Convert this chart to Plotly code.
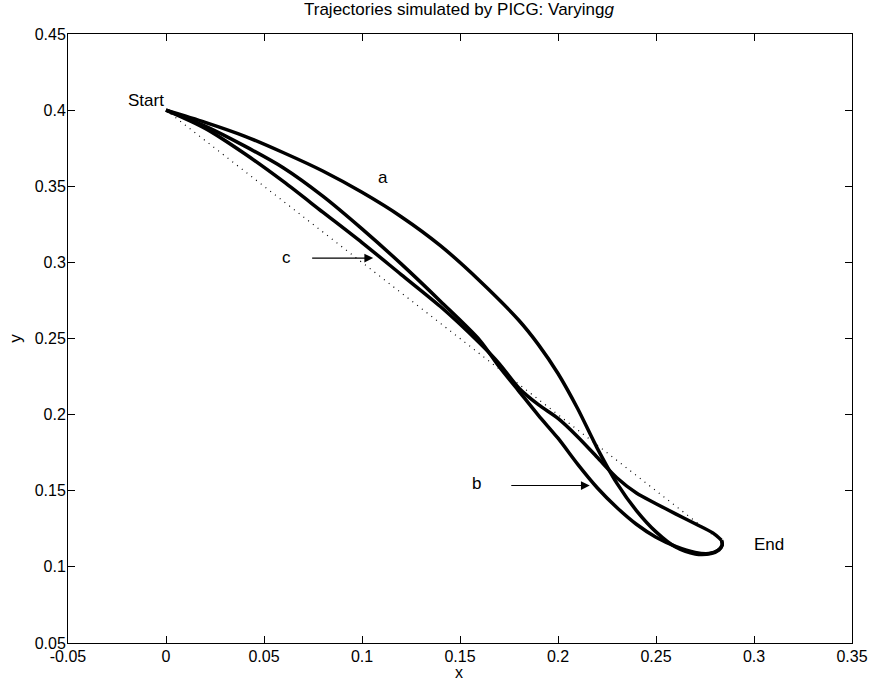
import plotly.graph_objects as go

# ---- data ----
a_x = [0, 0.02, 0.04, 0.06, 0.08, 0.10, 0.12, 0.14, 0.16, 0.18, 0.19, 0.20,
       0.21, 0.22, 0.23, 0.24, 0.25, 0.26, 0.27, 0.278, 0.2822, 0.2838, 0.2834]
a_y = [0.4, 0.392, 0.383, 0.372, 0.360, 0.346, 0.330, 0.311, 0.288, 0.262, 0.246, 0.227,
       0.204, 0.178, 0.155, 0.137, 0.123, 0.113, 0.1085, 0.1088, 0.1112, 0.1145, 0.1175]

b_x = [0, 0.02, 0.04, 0.06, 0.08, 0.10, 0.12, 0.14, 0.16, 0.17, 0.18, 0.19, 0.20,
       0.21, 0.22, 0.23, 0.24, 0.25, 0.26, 0.27, 0.277, 0.2815, 0.2838, 0.2834]
b_y = [0.4, 0.3895, 0.3765, 0.362, 0.3435, 0.322, 0.299, 0.2745, 0.249, 0.2315, 0.2155,
       0.1995, 0.1845, 0.1675, 0.152, 0.139, 0.128, 0.1195, 0.1135, 0.1095, 0.1088,
       0.1108, 0.1145, 0.1175]

c_x = [0, 0.02, 0.04, 0.06, 0.08, 0.10, 0.12, 0.14, 0.16, 0.17, 0.18, 0.19, 0.20,
       0.21, 0.22, 0.23, 0.24, 0.25, 0.26, 0.27, 0.279, 0.2834]
c_y = [0.4, 0.388, 0.3715, 0.353, 0.333, 0.313, 0.292, 0.271, 0.247, 0.2335, 0.2175,
       0.2065, 0.1975, 0.1855, 0.172, 0.1585, 0.1485, 0.1415, 0.1348, 0.1283, 0.1223, 0.1175]

straight_x = [0, 0.28]
straight_y = [0.4, 0.12]

x_ticks = [-0.05, 0, 0.05, 0.1, 0.15, 0.2, 0.25, 0.3, 0.35]
x_tick_labels = ["-0.05", "0", "0.05", "0.1", "0.15", "0.2", "0.25", "0.3", "0.35"]
y_ticks = [0.05, 0.1, 0.15, 0.2, 0.25, 0.3, 0.35, 0.4, 0.45]
y_tick_labels = ["0.05", "0.1", "0.15", "0.2", "0.25", "0.3", "0.35", "0.4", "0.45"]

title_text = "Trajectories simulated by PICG: Varying<i>g</i>"
x_title = "x"
y_title = "y"

FONT = "Liberation Sans, Arial, Helvetica, sans-serif"

fig = go.Figure()
fig.add_trace(go.Scatter(x=straight_x, y=straight_y, mode="lines",
                         line=dict(color="black", width=1.2, dash="1px,5px"),
                         showlegend=False, hoverinfo="skip"))
for xs, ys in [(a_x, a_y), (b_x, b_y), (c_x, c_y)]:
    fig.add_trace(go.Scatter(x=xs, y=ys, mode="lines",
                             line=dict(color="black", width=3.5, shape="spline", smoothing=0.8),
                             showlegend=False, hoverinfo="skip"))

lab = dict(size=17, color="black", family=FONT)
annots = [
    dict(x=-0.0104, y=0.406, text="Start", showarrow=False, xref="x", yref="y", font=lab),
    dict(x=0.3075, y=0.1145, text="End", showarrow=False, xref="x", yref="y", font=lab),
    dict(x=0.1105, y=0.3555, text="a", showarrow=False, xref="x", yref="y", font=lab),
    dict(x=0.0616, y=0.3035, text="c", showarrow=False, xref="x", yref="y", font=lab),
    dict(x=0.1584, y=0.1550, text="b", showarrow=False, xref="x", yref="y", font=lab),
    dict(x=0.1057, y=0.3028, ax=0.0738, ay=0.3028, axref="x", ayref="y",
         xref="x", yref="y", text="", showarrow=True, arrowhead=2,
         arrowsize=1.6, arrowwidth=1.1, arrowcolor="black", standoff=0),
    dict(x=0.2162, y=0.1534, ax=0.1754, ay=0.1534, axref="x", ayref="y",
         xref="x", yref="y", text="", showarrow=True, arrowhead=2,
         arrowsize=1.6, arrowwidth=1.1, arrowcolor="black", standoff=0),
    # title and axis titles
    dict(x=0.4987, y=1.040, xref="paper", yref="paper", text=title_text, showarrow=False,
         xanchor="center", yanchor="middle", font=dict(size=17, color="black", family=FONT)),
    dict(x=0.4987, y=-0.0657, xref="paper", yref="paper", text=x_title, showarrow=False,
         xanchor="center", yanchor="bottom", font=dict(size=16, color="black", family=FONT)),
    dict(x=-0.068, y=0.5008, xref="paper", yref="paper", text=y_title, showarrow=False,
         textangle=-90, xanchor="center", yanchor="middle",
         font=dict(size=17, color="black", family=FONT)),
]

fig.update_layout(
    width=869, height=685,
    margin=dict(l=68, r=17, t=34, b=42, autoexpand=False),
    paper_bgcolor="white", plot_bgcolor="white",
    font=dict(family=FONT, size=16, color="black"),
    annotations=annots,
    showlegend=False,
)
fig.update_xaxes(range=[-0.05, 0.35], tickvals=x_ticks, ticktext=x_tick_labels,
                 showgrid=False, zeroline=False, showline=True, linecolor="black",
                 linewidth=1, mirror="ticks", ticks="inside", ticklen=7, tickcolor="black",
                 automargin=False, tickfont=dict(size=16), ticklabelstandoff=-1)
fig.update_yaxes(range=[0.05, 0.45], tickvals=y_ticks, ticktext=y_tick_labels,
                 showgrid=False, zeroline=False, showline=True, linecolor="black",
                 linewidth=1, mirror="ticks", ticks="inside", ticklen=7, tickcolor="black",
                 automargin=False, tickfont=dict(size=16), ticklabelstandoff=-2)

# remove the browser's default 8px body margin so the figure sits at the page origin
fig.write_html("out.html", post_script="document.body.style.margin='0';",
               config={"displayModeBar": False})
